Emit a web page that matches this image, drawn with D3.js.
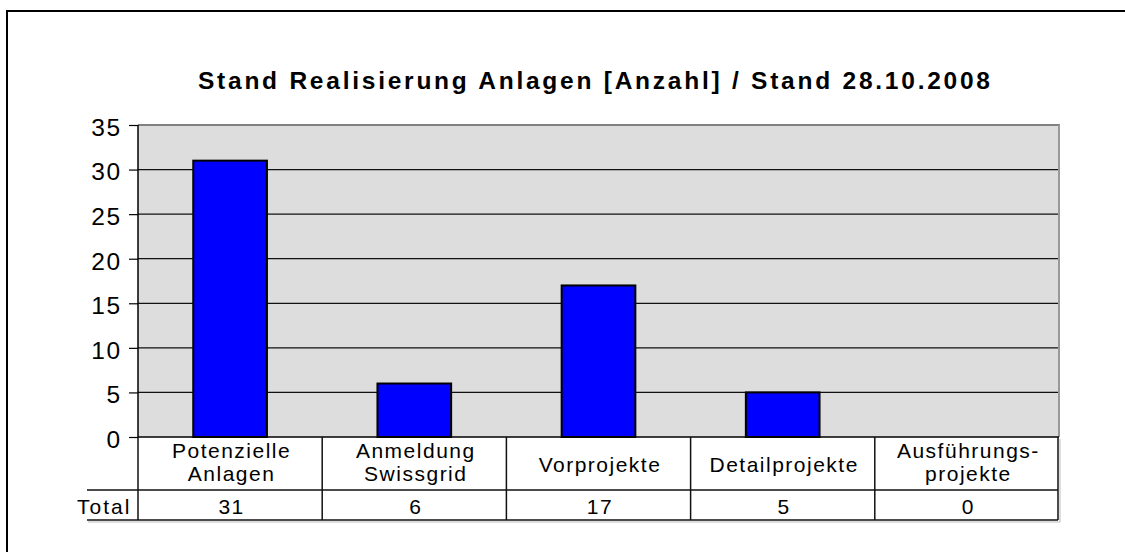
<!DOCTYPE html>
<html>
<head>
<meta charset="utf-8">
<script src="https://cdn.jsdelivr.net/npm/d3@7"></script>
<style>
  body { margin: 0; background: #fff; }
  svg { display: block; font-family: Arial, "Liberation Sans", sans-serif; }
</style>
</head>
<body>
<div id="chart"></div>
<script>
var categories = [["Potenzielle", "Anlagen"], ["Anmeldung", "Swissgrid"], ["Vorprojekte"], ["Detailprojekte"], ["Ausführungs-", "projekte"]];
var totals = [31, 6, 17, 5, 0];
var yTicks = [0, 5, 10, 15, 20, 25, 30, 35];
var title = "Stand Realisierung Anlagen [Anzahl] / Stand 28.10.2008";
var rowLabel = "Total";

var svgWidth = 1125;
var svgHeight = 552;

var plot = { left: 138, right: 1059, top: 125, bottom: 437 };
var width = plot.right - plot.left;
var height = plot.bottom - plot.top;

var svg = d3.select("#chart")
  .append("svg")
  .attr("width", svgWidth)
  .attr("height", svgHeight);

// outer frame (only left and top visible)
svg.append("rect")
  .attr("x", 7).attr("y", 11)
  .attr("width", 1130).attr("height", 560)
  .attr("fill", "none")
  .attr("stroke", "#000")
  .attr("stroke-width", 2);

svg.append("text")
  .attr("x", 594)
  .attr("y", 89)
  .attr("text-anchor", "middle")
  .attr("font-size", 24.5)
  .attr("font-weight", "bold")
  .attr("textLength", 792)
  .attr("lengthAdjust", "spacing")
  .text(title);

var chartGroup = svg.append("g")
  .attr("transform", `translate(${plot.left}, ${plot.top})`);

var xBand = d3.scaleBand()
  .domain(d3.range(totals.length))
  .range([0, width])
  .paddingInner(0.6)
  .paddingOuter(0.3);

var xCell = d3.scaleBand()
  .domain(d3.range(totals.length))
  .range([0, width]);

var yLinearScale = d3.scaleLinear()
  .domain([0, 35])
  .range([height, 0]);

chartGroup.append("rect")
  .attr("width", width)
  .attr("height", height)
  .attr("fill", "#dddddd");

// gridlines
chartGroup.selectAll(".grid")
  .data(yTicks.filter(d => d > 0 && d < 35))
  .enter()
  .append("line")
  .attr("x1", 0)
  .attr("x2", width)
  .attr("y1", d => yLinearScale(d))
  .attr("y2", d => yLinearScale(d))
  .attr("stroke", "#111")
  .attr("stroke-width", 1.2);

// top and right border of plot
chartGroup.append("line")
  .attr("x1", 0).attr("x2", width + 1)
  .attr("y1", yLinearScale(35)).attr("y2", yLinearScale(35))
  .attr("stroke", "#808080").attr("stroke-width", 2);
chartGroup.append("line")
  .attr("x1", width).attr("x2", width)
  .attr("y1", 0).attr("y2", height)
  .attr("stroke", "#999").attr("stroke-width", 2);

chartGroup.selectAll(".bar")
  .data(totals.map((v, i) => ({ v: v, i: i })).filter(d => d.v > 0))
  .enter()
  .append("rect")
  .attr("x", d => xBand(d.i))
  .attr("y", d => yLinearScale(d.v))
  .attr("width", xBand.bandwidth())
  .attr("height", d => height - yLinearScale(d.v))
  .attr("fill", "#0000ff")
  .attr("stroke", "#000")
  .attr("stroke-width", 2);

var leftAxis = d3.axisLeft(yLinearScale)
  .tickValues(yTicks)
  .tickSize(9)
  .tickPadding(7);

var yAxis = chartGroup.append("g").call(leftAxis);
yAxis.select(".domain").attr("stroke", "#000").attr("stroke-width", 1.5).attr("d", `M0,0V${height}`);
yAxis.selectAll(".tick line").attr("stroke", "#000").attr("stroke-width", 1.2);
yAxis.selectAll(".tick text")
  .attr("font-size", 24.5)
  .attr("letter-spacing", 1.8)
  .attr("font-family", "Arial, 'Liberation Sans', sans-serif")
  .attr("fill", "#000")
  .attr("dy", "0.42em");

// data table under the plot
var rowTop = height;
var row1Bottom = 490 - plot.top;
var row2Bottom = 520 - plot.top;
var tableLeft = 87 - plot.left;

var table = chartGroup.append("g");
table.append("line")
  .attr("x1", 0).attr("x2", width)
  .attr("y1", rowTop).attr("y2", rowTop)
  .attr("stroke", "#000").attr("stroke-width", 1.5);
[row1Bottom, row2Bottom].forEach(function(y) {
  table.append("line")
    .attr("x1", tableLeft).attr("x2", width - 1)
    .attr("y1", y).attr("y2", y)
    .attr("stroke", "#111").attr("stroke-width", 1.5);
});
// shadow line on right/bottom
table.append("path")
  .attr("d", `M${tableLeft + 1},${row2Bottom + 2}H${width + 1}V${rowTop + 2}`)
  .attr("fill", "none")
  .attr("stroke", "#bbb")
  .attr("stroke-width", 1);

table.selectAll(".vline")
  .data(d3.range(totals.length + 1))
  .enter()
  .append("line")
  .attr("x1", d => d < totals.length ? xCell(d) : width - 1)
  .attr("x2", d => d < totals.length ? xCell(d) : width - 1)
  .attr("y1", rowTop)
  .attr("y2", row2Bottom)
  .attr("stroke", "#111")
  .attr("stroke-width", 1.5);

var labelCells = table.selectAll(".cat")
  .data(categories)
  .enter()
  .append("text")
  .attr("text-anchor", "middle")
  .attr("font-size", 21)
  .attr("letter-spacing", 1.5)
  .attr("fill", "#000");

labelCells.each(function(lines, i) {
  var t = d3.select(this);
  var cx = xCell(i) + xCell.bandwidth() / 2 + 1.5;
  var firstBase = lines.length > 1 ? 458 - plot.top : 472 - plot.top;
  lines.forEach(function(line, k) {
    t.append("tspan")
      .attr("x", cx)
      .attr("y", firstBase + k * 23)
      .text(line);
  });
});

table.selectAll(".val")
  .data(totals)
  .enter()
  .append("text")
  .attr("x", (d, i) => xCell(i) + xCell.bandwidth() / 2 + 1.5)
  .attr("y", 514 - plot.top)
  .attr("text-anchor", "middle")
  .attr("font-size", 21)
  .attr("letter-spacing", 1.5)
  .text(d => d);

table.append("text")
  .attr("x", 77 - plot.left)
  .attr("y", 514 - plot.top)
  .attr("font-size", 21)
  .attr("letter-spacing", 2)
  .text(rowLabel);
</script>
</body>
</html>
